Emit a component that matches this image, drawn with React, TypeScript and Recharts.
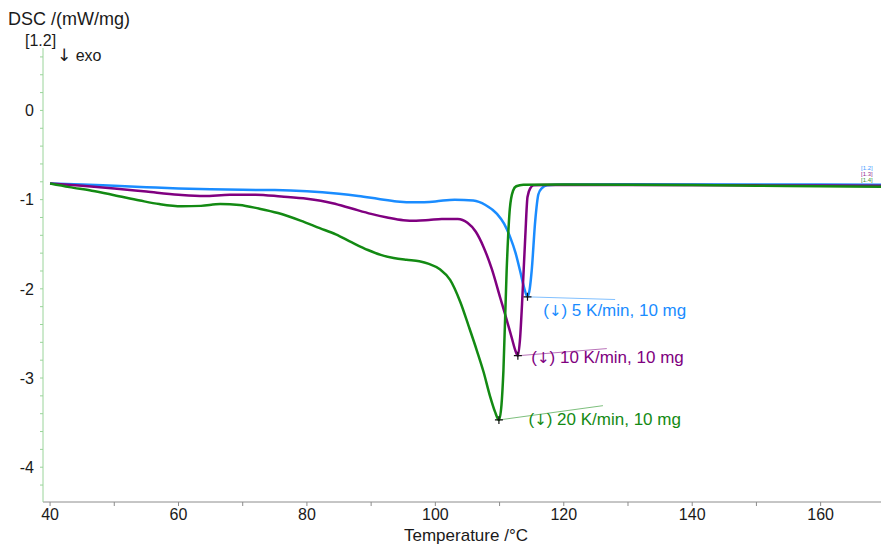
import { LineChart, Line, XAxis, YAxis, ReferenceLine, ReferenceDot } from 'recharts'

const W = 881
const H = 544
const FONT = '"Liberation Sans", Arial, sans-serif'
const ARROW_FONT = '"DejaVu Sans", sans-serif'

// ── data (T in °C, DSC in mW/mg) ───────────────────────────────────────────
const rate5: number[][] = [
  [40, -0.82], [45, -0.83], [50, -0.845], [55, -0.86], [60, -0.875], [65, -0.885],
  [70, -0.89], [75, -0.892], [80, -0.905], [85, -0.935], [88, -0.96], [91, -0.99],
  [94, -1.02], [97, -1.03], [100, -1.02], [103, -1.0], [105.9, -1.01], [107.8, -1.06],
  [109.6, -1.16], [110.7, -1.27], [111.65, -1.42], [112.5, -1.6], [113.2, -1.8],
  [113.8, -1.98], [114.35, -2.09], [114.7, -2.0], [115.0, -1.8], [115.55, -1.24],
  [116.05, -0.94], [116.6, -0.87], [117.4, -0.84], [120, -0.83], [130, -0.828],
  [150, -0.83], [169.4, -0.832],
]

const rate10: number[][] = [
  [40, -0.82], [45, -0.845], [50, -0.875], [55, -0.91], [60, -0.945], [64, -0.96],
  [68, -0.945], [72, -0.945], [76, -0.965], [80, -0.99], [84, -1.04], [87, -1.1],
  [90, -1.16], [92.5, -1.2], [95, -1.23], [97, -1.236], [99, -1.228], [101, -1.217],
  [103.5, -1.217], [105, -1.26], [106.3, -1.36], [107.5, -1.53], [108.8, -1.78],
  [110.1, -2.1], [111, -2.32], [111.9, -2.55], [112.5, -2.7], [112.85, -2.75],
  [113.2, -2.55], [113.5, -2.17], [114.0, -1.42], [114.35, -0.97], [114.8, -0.87],
  [115.3, -0.84], [117, -0.835], [130, -0.836], [150, -0.84], [169.4, -0.845],
]

const rate20: number[][] = [
  [40, -0.82], [43, -0.86], [46.5, -0.9], [50, -0.95], [54, -1.01], [57, -1.05],
  [60.5, -1.075], [63.5, -1.07], [66.5, -1.05], [69.5, -1.06], [72.5, -1.1],
  [75.5, -1.15], [79, -1.235], [82, -1.32], [84.5, -1.39], [87, -1.48], [89.5, -1.565],
  [91.5, -1.62], [93.5, -1.655], [95.5, -1.675], [97.5, -1.69], [99, -1.72],
  [100.7, -1.78], [102.3, -1.9], [103.9, -2.15], [105.2, -2.42], [106.5, -2.7],
  [107.5, -2.93], [108.5, -3.2], [109.3, -3.38], [109.9, -3.47], [110.3, -3.3],
  [110.6, -2.92], [111.1, -1.8], [111.6, -1.1], [112.1, -0.9], [112.6, -0.85],
  [113.7, -0.832], [120, -0.83], [130, -0.832], [140, -0.837], [150, -0.843],
  [160, -0.849], [169.4, -0.855],
]

const seriesNames = ['5 K/min, 10 mg', '10 K/min, 10 mg', '20 K/min, 10 mg']
const seriesColors = ['#1a8cff', '#800080', '#138a13']
const seriesData = [rate5, rate10, rate20]
const curveIds = ['[1.2]', '[1.3]', '[1.4]']

// peak (T, DSC) and the end of each peak's tangent line
const peaks: number[][] = [[114.35, -2.09], [112.85, -2.75], [109.9, -3.47]]
const tangentEnds: number[][] = [[128, -2.12], [126.7, -2.67], [126.1, -3.31]]
// where each peak label begins
const labelAnchors: number[][] = [[116.8, -2.24], [114.95, -2.77], [114.5, -3.46]]

const xTicks = [40, 50, 60, 70, 80, 90, 100, 110, 120, 130, 140, 150, 160]
const yTicks = [-4.2, -4, -3.8, -3.6, -3.4, -3.2, -3, -2.8, -2.6, -2.4, -2.2, -2, -1.8, -1.6,
  -1.4, -1.2, -1, -0.8, -0.6, -0.4, -0.2, 0, 0.2, 0.4, 0.6]

const toRows = (pts: number[][]) => pts.map(([t, v]) => ({ t, v }))

const Cross = (p: any) => (
  <path d={`M${p.cx - 4},${p.cy}h8M${p.cx},${p.cy - 4}v8`} stroke="#111" strokeWidth={1.2} fill="none" />
)

const textStyle = { position: 'absolute' as const, fontFamily: FONT, color: '#1a1a1a', whiteSpace: 'nowrap' as const, lineHeight: 1 }

export default function App() {
  return (
    <div style={{ position: 'absolute', left: 0, top: 0, width: W, height: H, background: '#fff', fontFamily: FONT }}>
      <LineChart width={W} height={H} margin={{ top: 48, right: 0, bottom: 0, left: 0 }}>
        <XAxis
          dataKey="t" type="number" domain={[38.9, 169.4]} allowDataOverflow
          ticks={xTicks} interval={0} height={42}
          tickFormatter={(v: number) => (v % 20 === 0 ? String(v) : '')}
          tick={{ fill: '#1a1a1a', fontSize: 16, fontFamily: FONT }}
          axisLine={{ stroke: '#8c8c8c' }} tickLine={{ stroke: '#8c8c8c' }}
          tickSize={4} tickMargin={3}
        />
        <YAxis
          dataKey="v" type="number" domain={[-4.39, 0.7]} allowDataOverflow
          ticks={yTicks} interval={0} width={43}
          tickFormatter={(v: number) => (Math.abs(v - Math.round(v)) < 1e-6 ? String(Math.round(v)) : '')}
          tick={{ fill: '#1a1a1a', fontSize: 16, fontFamily: FONT }}
          axisLine={{ stroke: '#9ad49a' }} tickLine={{ stroke: '#9ad49a' }}
          tickSize={3} tickMargin={6}
        />
        {seriesData.map((pts, i) => (
          <Line
            key={seriesNames[i]} data={toRows(pts)} dataKey="v" type="monotone"
            stroke={seriesColors[i]} strokeWidth={2.5} dot={false} activeDot={false}
            isAnimationActive={false}
          />
        ))}
        {peaks.map((p, i) => (
          <ReferenceLine
            key={'tan' + i} ifOverflow="visible"
            segment={[{ x: p[0], y: p[1] }, { x: tangentEnds[i][0], y: tangentEnds[i][1] }]}
            stroke={seriesColors[i]} strokeOpacity={0.55} strokeWidth={1}
          />
        ))}
        {peaks.map((p, i) => (
          <ReferenceDot key={'pk' + i} x={p[0]} y={p[1]} r={4} shape={Cross} ifOverflow="visible" />
        ))}
        {labelAnchors.map((a, i) => (
          <ReferenceDot
            key={'lb' + i} x={a[0]} y={a[1]} r={1} ifOverflow="visible"
            shape={(p: any) => (
              <text x={p.cx} y={p.cy} dy="0.35em" fill={seriesColors[i]} fontSize={17} fontFamily={FONT}>
                (<tspan fontFamily={ARROW_FONT} fontSize={15}>↓</tspan>) {seriesNames[i]}
              </text>
            )}
          />
        ))}
      </LineChart>

      <div style={{ ...textStyle, left: 8, top: 10, fontSize: 18 }}>DSC /(mW/mg)</div>
      <div style={{ ...textStyle, left: 25, top: 33, fontSize: 16 }}>[1.2]</div>
      <div style={{ ...textStyle, left: 57, top: 47, fontSize: 16 }}>
        <span style={{ fontFamily: ARROW_FONT, fontSize: 17 }}>↓</span> exo
      </div>
      <div style={{ ...textStyle, left: 404, top: 527, fontSize: 17 }}>Temperature /°C</div>

      {/* tiny curve ids at the right edge, just above the flat tails */}
      {curveIds.map((id, i) => (
        <div key={id} style={{ ...textStyle, left: 861, top: 165 + i * 6, fontSize: 6, color: seriesColors[i], opacity: 0.85 }}>
          {id}
        </div>
      ))}
    </div>
  )
}
